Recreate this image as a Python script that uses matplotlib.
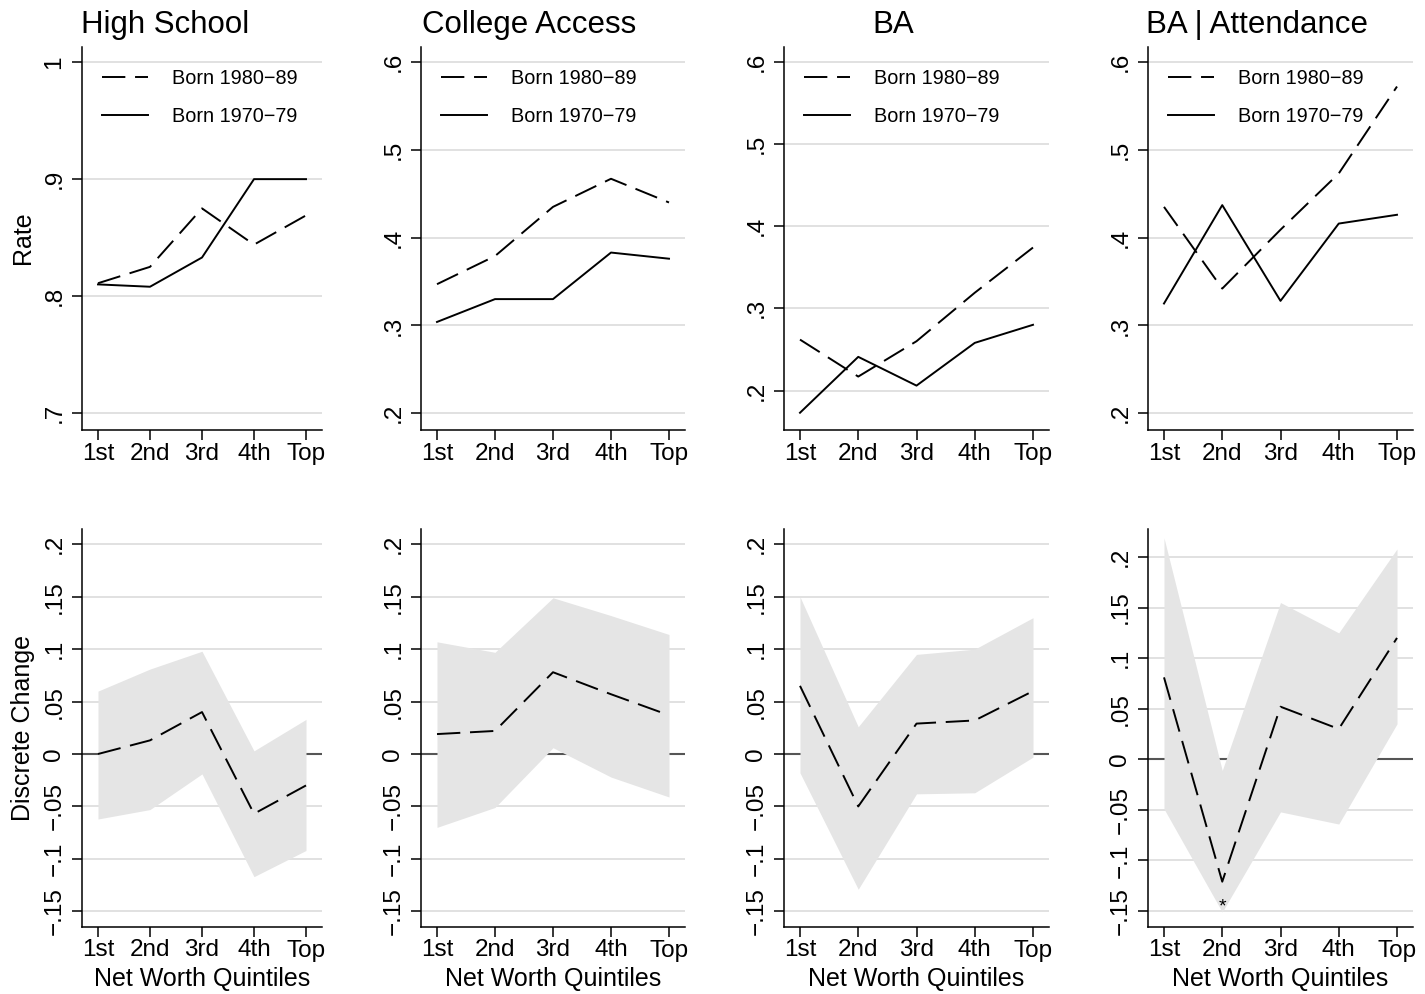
import matplotlib
matplotlib.use('Agg')
import matplotlib.pyplot as plt
import numpy as np

plt.rcParams['font.family'] = ['Liberation Sans', 'DejaVu Sans']

quintiles = ['1st', '2nd', '3rd', '4th', 'Top']
titles = ['High School', 'College Access', 'BA', 'BA | Attendance']

# rates by cohort (top row)
hs_8089 = [0.811, 0.825, 0.875, 0.844, 0.869]
hs_7079 = [0.810, 0.808, 0.833, 0.900, 0.900]
ca_8089 = [0.347, 0.379, 0.435, 0.467, 0.440]
ca_7079 = [0.304, 0.330, 0.330, 0.383, 0.376]
ba_8089 = [0.262, 0.217, 0.260, 0.319, 0.374]
ba_7079 = [0.173, 0.241, 0.206, 0.258, 0.280]
bat_8089 = [0.435, 0.342, 0.409, 0.473, 0.572]
bat_7079 = [0.325, 0.437, 0.328, 0.416, 0.426]

# discrete change with confidence band (bottom row)
hs_dc = [0.000, 0.013, 0.040, -0.057, -0.030]
hs_hi = [0.060, 0.081, 0.098, 0.003, 0.033]
hs_lo = [-0.062, -0.053, -0.019, -0.117, -0.092]
ca_dc = [0.019, 0.022, 0.078, 0.057, 0.037]
ca_hi = [0.107, 0.097, 0.149, 0.132, 0.114]
ca_lo = [-0.070, -0.051, 0.006, -0.022, -0.041]
ba_dc = [0.065, -0.050, 0.029, 0.032, 0.060]
ba_hi = [0.150, 0.026, 0.095, 0.100, 0.130]
ba_lo = [-0.018, -0.129, -0.038, -0.037, -0.003]
bat_dc = [0.081, -0.121, 0.052, 0.030, 0.120]
bat_hi = [0.219, -0.011, 0.155, 0.125, 0.208]
bat_lo = [-0.049, -0.151, -0.052, -0.064, 0.035]
bat_star = -0.146

top_series = [(hs_8089, hs_7079), (ca_8089, ca_7079), (ba_8089, ba_7079), (bat_8089, bat_7079)]
bot_series = [(hs_dc, hs_lo, hs_hi), (ca_dc, ca_lo, ca_hi), (ba_dc, ba_lo, ba_hi), (bat_dc, bat_lo, bat_hi)]

top_ticks = [[0.7, 0.8, 0.9, 1.0]] + [[0.2, 0.3, 0.4, 0.5, 0.6]] * 3
top_labels = [['.7', '.8', '.9', '1']] + [['.2', '.3', '.4', '.5', '.6']] * 3
top_ylim = [(0.6855, 1.013), (0.181, 0.617), (0.152, 0.618), (0.181, 0.617)]
bot_ticks = [-0.15, -0.1, -0.05, 0, 0.05, 0.1, 0.15, 0.2]
bot_labels = ['\u2212.15', '\u2212.1', '\u2212.05', '0', '.05', '.1', '.15', '.2']
bot_ylim = [(-0.165, 0.2146)] * 3 + [(-0.1658, 0.2277)]

W, H = 1425, 994
fig = plt.figure(figsize=(W / 100, H / 100), dpi=100)

cols = [(82, 322), (421, 685), (784, 1049), (1148, 1413)]
title_x = [165, 529, 893, 1257]
x = np.arange(1, 6)
dash = (0, (12, 5))
grid_c = '#dcdcdc'
shade_c = '#e5e5e5'


def make_axes(left, top, right, bottom):
    ax = fig.add_axes([left / W, 1 - bottom / H, (right - left) / W, (bottom - top) / H])
    for s in ['top', 'right']:
        ax.spines[s].set_visible(False)
    for s in ['left', 'bottom']:
        ax.spines[s].set_linewidth(1.1)
    ax.tick_params(axis='both', direction='out', length=7, width=1.1, labelsize=17.5)
    ax.tick_params(axis='x', pad=2)
    ax.tick_params(axis='y', pad=5, labelrotation=90)
    ax.set_xticks(x)
    ax.set_xticklabels(quintiles)
    return ax


for i, (l, r) in enumerate(cols):
    pad = 16 / ((r - l - 32) / 4)
    # top row
    ax = make_axes(l, 47, r, 430)
    s80, s70 = top_series[i]
    ax.set_yticks(top_ticks[i])
    ax.set_yticklabels(top_labels[i], va='center')
    for t in top_ticks[i]:
        ax.axhline(t, color=grid_c, lw=1.2, zorder=0)
    ax.plot(x, s80, color='black', lw=1.4, linestyle=dash, label='Born 1980\u221289')
    ax.plot(x, s70, color='black', lw=1.4, label='Born 1970\u221279')
    ax.set_xlim(1 - pad, 5 + pad)
    ax.set_ylim(*top_ylim[i])
    ax.legend(loc='upper left', frameon=False, fontsize=14.3, handlelength=2.3,
              handletextpad=1.25, labelspacing=0.95, borderaxespad=0,
              bbox_to_anchor=(12 / (r - l), 1 - 14 / 383))
    fig.text(title_x[i] / W, 1 - 33 / H, titles[i], fontsize=22.5, ha='center', va='baseline')

    # bottom row
    ax = make_axes(l, 529, r, 927)
    dc, lo, hi = bot_series[i]
    ax.set_yticks(bot_ticks)
    ax.set_yticklabels(bot_labels, va='center')
    for t in bot_ticks:
        if t != 0:
            ax.axhline(t, color=grid_c, lw=1.2, zorder=0)
    ax.axhline(0, color='#555555', lw=1.5, zorder=0.5)
    ax.fill_between(x, lo, hi, color=shade_c, lw=0, zorder=1)
    ax.plot(x, dc, color='black', lw=1.4, linestyle=dash, zorder=2)
    if i == 3:
        ax.text(2, bat_star, '*', ha='center', va='center', fontsize=14, zorder=3)
    ax.set_xlim(1 - pad, 5 + pad)
    ax.set_ylim(*bot_ylim[i])
    ax.set_xlabel('Net Worth Quintiles', fontsize=18, labelpad=4)

fig.text(23 / W, 1 - 238 / H, 'Rate', fontsize=18, rotation=90, ha='center', va='center')
fig.text(23 / W, 1 - 728 / H, 'Discrete Change', fontsize=18, rotation=90, ha='center', va='center')

fig.savefig('out.png', dpi=100)
